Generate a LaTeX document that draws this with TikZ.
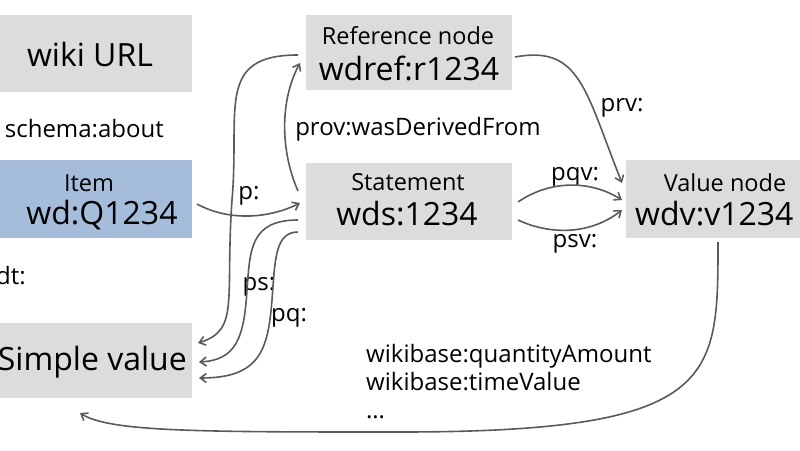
\documentclass[tikz,border=0pt]{standalone}
\usepackage{fontspec}
\setmainfont{Open Sans}
\usetikzlibrary{arrows.meta}
\definecolor{boxgray}{HTML}{DCDCDC}
\definecolor{boxblue}{HTML}{A5BDDB}
\definecolor{arr}{HTML}{5A5A5A}
\begin{document}
\begin{tikzpicture}[x=1pt,y=-1pt,
 box/.style={fill=boxgray,draw=none},
 big/.style={font=\fontsize{32}{34}\selectfont,inner sep=0pt},
 mid/.style={font=\fontsize{23.5}{25}\selectfont,inner sep=0pt},
 lab/.style={font=\fontsize{24}{28}\selectfont,inner sep=0pt},
 con/.style={draw=arr,line width=1.6pt,-{Straight Barb[length=6pt,width=9pt]}}]
\useasboundingbox (0,0) rectangle (800,450);
\begin{scope}
\clip (0,0) rectangle (800,450);
\fill[boxgray] (-10,15) rectangle (192,92);
\node[big] (url) at (90,54) {wiki URL};
\fill[boxblue] (-10,160) rectangle (192,238);
\node[mid] (itemt) at (89,183) {Item};
\node[big] (item) at (102,215) {wd:Q1234};
\fill[boxgray] (-10,323) rectangle (192,398);
\node[big,anchor=east] (simple) at (187,362) {Simple value};
\fill[boxgray] (306,15) rectangle (512,90);
\node[mid] (reft) at (408,36) {Reference node};
\node[big] (ref) at (409,68) {wdref:r1234};
\fill[boxgray] (306,163) rectangle (512,240);
\node[mid] (stt) at (408,182) {Statement};
\node[big] (st) at (407,214) {wds:1234};
\fill[boxgray] (626,160) rectangle (810,238);
\node[mid] (valt) at (725,183) {Value node};
\node[big,anchor=west] (val) at (635,214) {wdv:v1234};
\node[lab,anchor=east] (about) at (164,129) {schema:about};
\node[lab,anchor=east] (wdt) at (26,276) {wdt:};
\node[lab] (lprov) at (418,129) {prov:wasDerivedFrom};
\node[lab] (lprv) at (622,108) {prv:};
\node[lab] (lpqv) at (575,177) {pqv:};
\node[lab] (lpsv) at (575,244) {psv:};
\node[lab] (lp) at (249,196) {p:};
\node[lab] (lps) at (259,287) {ps:};
\node[lab] (lpq) at (289,318) {pq:};
\node[lab,anchor=north west,align=left] (lwb) at (366,344) {wikibase:quantityAmount\\wikibase:timeValue\\\dots};
\coordinate (a1) at (298,55);
\coordinate (a2) at (198,343);
\coordinate (b1) at (298,191);
\coordinate (b2) at (300,63);
\coordinate (c1) at (197,204);
\coordinate (c2) at (300,203);
\coordinate (d1) at (298,220);
\coordinate (d2) at (199,362);
\coordinate (e1) at (298,232);
\coordinate (e2) at (199,378);
\coordinate (f1) at (515,57);
\coordinate (f2) at (622,183);
\coordinate (g1) at (518,202);
\coordinate (g2) at (622,200);
\coordinate (h1) at (518,220);
\coordinate (h2) at (622,210);
\coordinate (k1) at (718,242);
\coordinate (k2) at (80,413);
\draw[con] (a1) .. controls (215,55) and (240,110) .. (232,200) .. controls (225,300) and (240,330) .. (a2);
\draw[con] (b1) .. controls (280,150) and (280,100) .. (b2);
\draw[con] (c1) .. controls (230,222) and (270,218) .. (c2);
\draw[con] (d1) .. controls (250,220) and (250,250) .. (247,290) .. controls (244,340) and (235,360) .. (d2);
\draw[con] (e1) .. controls (275,232) and (275,260) .. (272,300) .. controls (268,350) and (260,378) .. (e2);
\draw[con] (f1) .. controls (580,45) and (585,90) .. (f2);
\draw[con] (g1) .. controls (550,180) and (590,180) .. (g2);
\draw[con] (h1) .. controls (550,235) and (590,235) .. (h2);
\draw[con] (k1) .. controls (718,380) and (718,432) .. (400,432) .. controls (200,432) and (110,432) .. (k2);
\end{scope}
\end{tikzpicture}
\end{document}
